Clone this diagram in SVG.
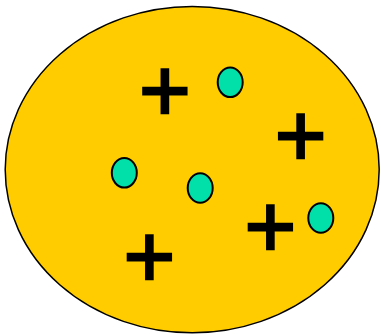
<svg xmlns="http://www.w3.org/2000/svg" width="381" height="334" viewBox="0 0 381 334">
<style>
.p{font-family:"Liberation Sans",Arial,sans-serif;font-weight:normal;font-size:88.7px;fill:#000;stroke:#000;stroke-width:2.3;stroke-linejoin:miter;text-anchor:middle}
.g{fill:#00E0A8;stroke:#000;stroke-width:2}
</style>
<rect width="381" height="334" fill="#fff"/>
<g id="region"><ellipse cx="192.2" cy="169.6" rx="187" ry="163.2" fill="#FFCC00" stroke="#000" stroke-width="1.5"/></g>
<g id="plus1"><text class="p" x="164.8" y="120.6">+</text></g>
<g id="plus2"><text class="p" x="300.7" y="165.9">+</text></g>
<g id="plus3"><text class="p" x="270.3" y="256.5">+</text></g>
<g id="plus4"><text class="p" x="149.3" y="286.9">+</text></g>
<g id="dot1"><ellipse class="g" cx="230.2" cy="82.3" rx="12.5" ry="14.8"/></g>
<g id="dot2"><ellipse class="g" cx="124.3" cy="172.8" rx="12.5" ry="14.8"/></g>
<g id="dot3"><ellipse class="g" cx="200.2" cy="188" rx="12.5" ry="14.8"/></g>
<g id="dot4"><ellipse class="g" cx="320.8" cy="218" rx="12.5" ry="14.8"/></g>
<g id="connectors"/>
</svg>
